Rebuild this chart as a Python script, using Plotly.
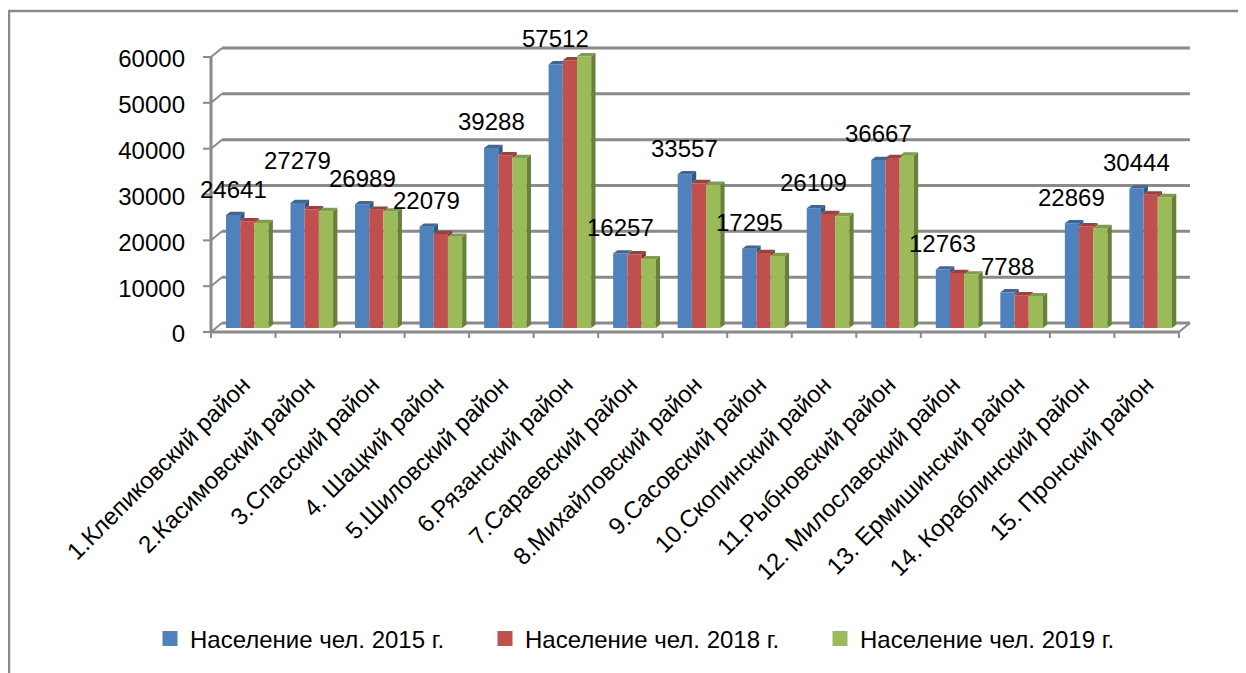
import plotly.graph_objects as go

# ---------------- data ----------------
categories = [
    "1.Клепиковский район", "2.Касимовский район", "3.Спасский район",
    "4. Шацкий район", "5.Шиловский район", "6.Рязанский район",
    "7.Сараевский район", "8.Михайловский район", "9.Сасовский район",
    "10.Скопинский район", "11.Рыбновский район", "12. Милославский район",
    "13. Ермишинский район", "14. Кораблинский район", "15. Пронский район",
]
pop_2015 = [24641, 27279, 26989, 22079, 39288, 57512, 16257, 33557, 17295,
            26109, 36667, 12763, 7788, 22869, 30444]
pop_2018 = [23300, 25900, 25800, 20500, 37700, 58400, 16100, 31600, 16350,
            24850, 37100, 12000, 7150, 22200, 29100]
pop_2019 = [22900, 25500, 25400, 19900, 37100, 59300, 15000, 31250, 15700,
            24400, 37600, 11650, 6900, 21800, 28550]
series_names = ["Население чел. 2015 г.", "Население чел. 2018 г.", "Население чел. 2019 г."]
y_ticks = [0, 10000, 20000, 30000, 40000, 50000, 60000]

# ---------------- style ----------------
FRONT = ["#4F81BD", "#C0504D", "#9BBB59"]
TOPC = ["#3D6799", "#9E3F3C", "#7F9C47"]
SIDEC = ["#34587F", "#82332F", "#67803A"]
GRID = "#8a8a8a"
FONT = "Liberation Sans, Arial, sans-serif"
FS = 24

OFF = 8                                  # page body margin of the html
W, H = 1246 - OFF, 673 - OFF
L, R, T, B = 195, 1215, 30, 338          # plot area in page pixels
FRONT_X0 = 211.0                         # first category boundary (front axis)
CAT_PX = 64.53                           # pixels per category
BASE_PX = 328.0                          # pixel row of value 0 (bars)
PX_PER_UNIT = 275.0 / 60000.0

def dx(p):
    return p / CAT_PX

def dy(p):
    return p / PX_PER_UNIT

def px_to_x(p):
    return (p - FRONT_X0) / CAT_PX - 0.5

def px_to_y(p):
    return (BASE_PX - p) / PX_PER_UNIT

n = len(categories)
series = [pop_2015, pop_2018, pop_2019]
BARGAP = 0.34
bw = (1 - BARGAP) / 3
centers = [i + dx(4) for i in range(n)]

fig = go.Figure()
for k, vals in enumerate(series):
    fig.add_trace(go.Bar(
        x=centers, y=vals, name=series_names[k], marker_color=FRONT[k],
        marker_line_width=0, showlegend=False, hoverinfo="y",
    ))
for k in range(3):
    fig.add_trace(go.Scatter(
        x=[None], y=[None], mode="markers", name=series_names[k],
        marker=dict(symbol="square", size=15, color=FRONT[k]),
    ))

shapes = []
# back wall gridlines and connectors (3-D frame)
DEPX, FRONT_DY, BACK_DY = 11, -4, 5
x_front_l = -0.5
x_front_r = n - 0.5
for v in y_ticks:
    shapes.append(dict(type="line", xref="x", yref="y", layer="below",
                       x0=x_front_l + dx(DEPX), x1=x_front_r + dx(DEPX),
                       y0=v + dy(BACK_DY), y1=v + dy(BACK_DY),
                       line=dict(color=GRID, width=3)))
    shapes.append(dict(type="line", xref="x", yref="y", layer="below",
                       x0=x_front_l, x1=x_front_l + dx(DEPX),
                       y0=v + dy(FRONT_DY), y1=v + dy(BACK_DY),
                       line=dict(color=GRID, width=2)))
    shapes.append(dict(type="line", xref="x", yref="y",
                       x0=x_front_l - dx(8), x1=x_front_l,
                       y0=v + dy(FRONT_DY), y1=v + dy(FRONT_DY),
                       line=dict(color=GRID, width=2)))
# front y axis
shapes.append(dict(type="line", xref="x", yref="y",
                   x0=x_front_l, x1=x_front_l,
                   y0=y_ticks[0] + dy(FRONT_DY), y1=y_ticks[-1] + dy(FRONT_DY),
                   line=dict(color=GRID, width=3)))
# front x axis
shapes.append(dict(type="line", xref="x", yref="y",
                   x0=x_front_l, x1=x_front_r,
                   y0=dy(FRONT_DY), y1=dy(FRONT_DY),
                   line=dict(color=GRID, width=3)))
for i in range(n + 1):
    shapes.append(dict(type="line", xref="x", yref="y",
                       x0=i - 0.5, x1=i - 0.5,
                       y0=dy(FRONT_DY), y1=dy(FRONT_DY - 9),
                       line=dict(color=GRID, width=2)))
shapes.append(dict(type="line", xref="x", yref="y", layer="below",
                   x0=x_front_r, x1=x_front_r + dx(DEPX),
                   y0=dy(FRONT_DY), y1=dy(BACK_DY),
                   line=dict(color=GRID, width=2)))

# bar depth faces
DX3, DY3 = dx(4.3), dy(3.3)
for i in range(n):
    for k in range(3):
        v = series[k][i]
        c = centers[i] + (k - 1) * bw
        l, r = c - bw / 2, c + bw / 2
        if k < 2:
            vn = series[k + 1][i]
            if vn < v:
                shapes.append(dict(type="path", xref="x", yref="y", line_width=0,
                                   fillcolor=SIDEC[k],
                                   path=f"M{r},{vn} L{r},{v} L{r+DX3},{v+DY3} L{r+DX3},{vn+DY3} Z"))
            if vn >= v + DY3:
                path = f"M{l},{v} L{r},{v} L{r},{v+DY3} L{l+DX3},{v+DY3} Z"
            else:
                path = f"M{l},{v} L{r},{v} L{r+DX3},{v+DY3} L{l+DX3},{v+DY3} Z"
        else:
            shapes.append(dict(type="path", xref="x", yref="y", line_width=0,
                               fillcolor=SIDEC[k],
                               path=f"M{r},0 L{r},{v} L{r+DX3},{v+DY3} L{r+DX3},{DY3} Z"))
            path = f"M{l},{v} L{r},{v} L{r+DX3},{v+DY3} L{l+DX3},{v+DY3} Z"
        shapes.append(dict(type="path", xref="x", yref="y", line_width=0,
                           fillcolor=TOPC[k], path=path))

# outer frame
shapes.append(dict(type="rect", xref="paper", yref="paper",
                   x0=(9 - L) / (R - L), x1=1.2,
                   y0=-1.5, y1=(B - 11) / (B - T),
                   line=dict(color=GRID, width=2.5)))

# data labels for 2015
label_lift = {1: 16}
annotations = []
for i, v in enumerate(pop_2015):
    annotations.append(dict(
        x=centers[i] - bw, y=v, xref="x", yref="y", text=str(v),
        showarrow=False, yanchor="middle", yshift=26 + label_lift.get(i, 0),
        font=dict(family=FONT, size=FS, color="black"),
    ))

fig.update_layout(
    width=W, height=H,
    margin=dict(l=L - OFF, r=W - (R - OFF), t=T - OFF, b=H - (B - OFF), pad=0),
    template="none",
    paper_bgcolor="white", plot_bgcolor="white",
    font=dict(family=FONT, size=FS, color="black"),
    barmode="group", bargap=BARGAP, bargroupgap=0,
    shapes=shapes, annotations=annotations,
    showlegend=True,
    legend=dict(orientation="h", x=(150 - L) / (R - L), xanchor="left",
                y=(B - 639) / (B - T), yanchor="middle",
                font=dict(family=FONT, size=FS, color="black"),
                entrywidth=290, entrywidthmode="pixels",
                bgcolor="rgba(0,0,0,0)"),
    xaxis=dict(range=[px_to_x(L), px_to_x(R)], tickmode="array",
               tickvals=list(range(n)), ticktext=categories, tickangle=-45,
               showgrid=False, zeroline=False, showline=False, ticks="",
               ticklabelstandoff=27,
               automargin=False, tickfont=dict(family=FONT, size=FS)),
    yaxis=dict(range=[px_to_y(B), px_to_y(T)], tickmode="array",
               tickvals=[v - dy(6) for v in y_ticks],
               ticktext=[str(v) for v in y_ticks],
               showgrid=False, zeroline=False, showline=False, ticks="",
               ticklabelstandoff=9, automargin=False,
               tickfont=dict(family=FONT, size=FS)),
)

fig.write_html("out.html")
